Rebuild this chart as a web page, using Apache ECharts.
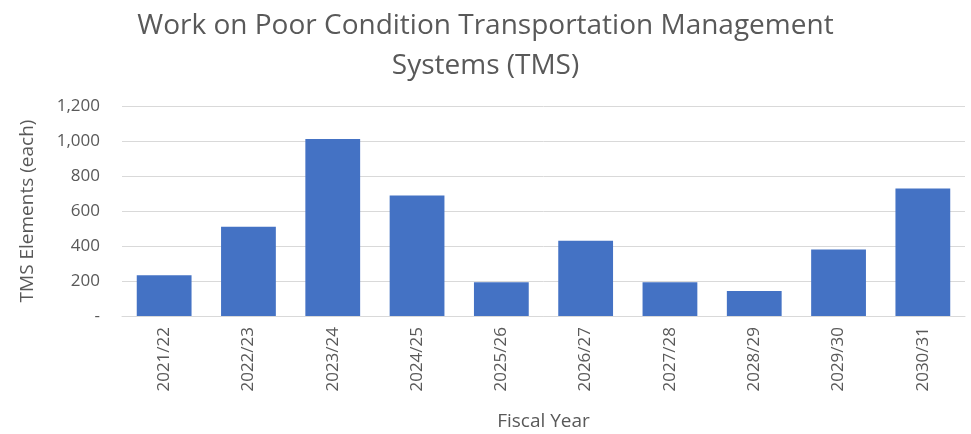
<!DOCTYPE html>
<html>
<head>
<meta charset="utf-8">
<script src="https://cdn.jsdelivr.net/npm/echarts@6/dist/echarts.min.js"></script>
<style>
  html, body { margin: 0; padding: 0; background: #fff; }
  #main { width: 971px; height: 434px; }
</style>
</head>
<body>
<div id="main"></div>
<script>
// data
var years = ['2021/22', '2022/23', '2023/24', '2024/25', '2025/26', '2026/27', '2027/28', '2028/29', '2029/30', '2030/31'];
var tmsElements = [233, 510, 1012, 688, 193, 430, 193, 143, 380, 728];
var yTicks = [0, 200, 400, 600, 800, 1000, 1200];

var myChart = echarts.init(document.getElementById('main'));

var txt = '#595959';
var font = 'Open Sans';

var option = {
    animation: false,
    title: {
        text: 'Work on Poor Condition Transportation Management\nSystems (TMS)',
        left: 'center',
        top: 1,
        textStyle: {
            color: txt,
            fontFamily: font,
            fontSize: 28,
            fontWeight: 'normal',
            lineHeight: 40
        }
    },
    grid: {
        left: 122,
        right: 6,
        top: 106,
        bottom: 118
    },
    xAxis: {
        type: 'category',
        data: years,
        name: 'Fiscal Year',
        nameLocation: 'middle',
        nameGap: 96,
        nameTextStyle: { color: txt, fontFamily: font, fontSize: 19 },
        axisTick: { show: false },
        axisLine: { lineStyle: { color: '#d9d9d9', width: 1 } },
        axisLabel: {
            rotate: 90,
            color: txt,
            fontFamily: font,
            fontSize: 17,
            margin: 11
        }
    },
    yAxis: {
        type: 'value',
        min: yTicks[0],
        max: yTicks[yTicks.length - 1],
        interval: 200,
        name: 'TMS Elements (each)',
        nameLocation: 'middle',
        nameGap: 85,
        nameRotate: 90,
        nameTextStyle: { color: txt, fontFamily: font, fontSize: 19 },
        axisLine: { show: false },
        axisTick: { show: false },
        axisLabel: {
            color: txt,
            fontFamily: font,
            fontSize: 17,
            margin: 22,
            formatter: function (v) {
                return v === 0 ? '-' : v.toLocaleString('en-US');
            }
        },
        splitLine: { lineStyle: { color: '#d9d9d9', width: 1 } }
    },
    series: [
        {
            name: 'TMS Elements',
            type: 'bar',
            data: tmsElements,
            barWidth: '65%',
            itemStyle: { color: '#4472c4' }
        }
    ]
};

myChart.setOption(option);
</script>
</body>
</html>
